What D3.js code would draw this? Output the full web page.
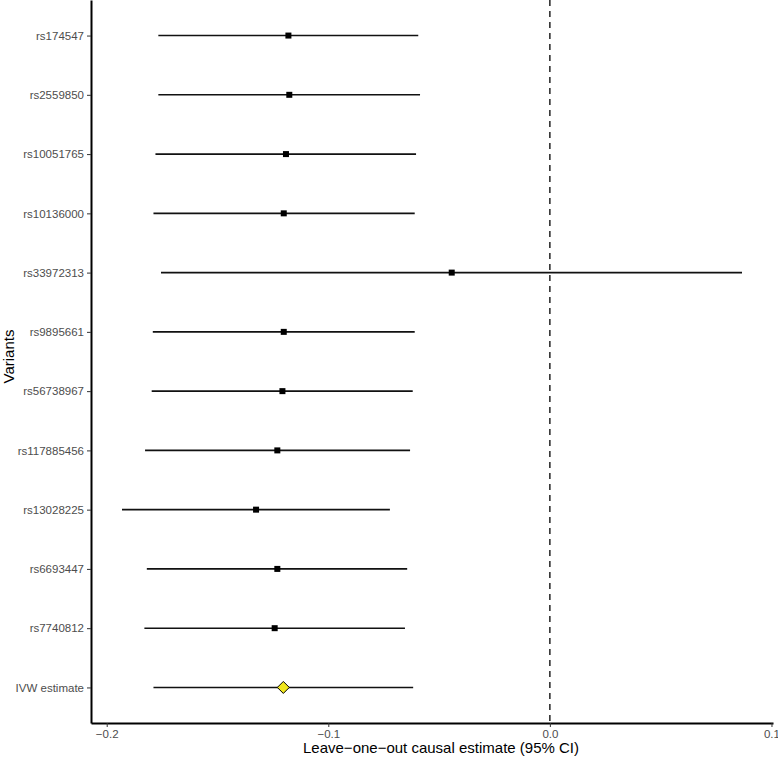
<!DOCTYPE html>
<html>
<head>
<meta charset="utf-8">
<script src="https://cdn.jsdelivr.net/npm/d3@7"></script>
<style>
  body { margin: 0; background: #fff; }
  svg { display: block; font-family: "Liberation Sans", Arial, Helvetica, sans-serif; }
</style>
</head>
<body>
<svg id="chart"></svg>
<script>
// Leave-one-out data, top row first
const variants = ["rs174547", "rs2559850", "rs10051765", "rs10136000", "rs33972313",
  "rs9895661", "rs56738967", "rs117885456", "rs13028225", "rs6693447", "rs7740812", "IVW estimate"];
const estimates = [-0.1180, -0.1176, -0.1191, -0.1201, -0.0443,
  -0.1201, -0.1207, -0.1230, -0.1326, -0.1230, -0.1242, -0.1203];
const lower = [-0.1767, -0.1767, -0.1780, -0.1789, -0.1755,
  -0.1792, -0.1797, -0.1827, -0.1931, -0.1819, -0.1830, -0.1789];
const upper = [-0.0594, -0.0586, -0.0604, -0.0610, 0.0867,
  -0.0610, -0.0619, -0.0631, -0.0722, -0.0644, -0.0654, -0.0617];
const xTicks = [-0.2, -0.1, 0.0, 0.1];

const width = 778, height = 757;
const margin = { top: 0, right: 5, bottom: 34, left: 91 };

const rows = variants.map((v, i) => ({ name: v, est: estimates[i], lo: lower[i], hi: upper[i] }));

const svg = d3.select("#chart").attr("width", width).attr("height", height);

// ggplot style 5% expansion
const lo = d3.min(lower), hi = d3.max(upper);
const pad = (hi - lo) * 0.05;
const x = d3.scaleLinear()
  .domain([lo - pad, hi + pad])
  .range([margin.left, width - margin.right]);

const y = d3.scalePoint()
  .domain(variants)
  .range([margin.top, height - margin.bottom])
  .padding(0.6);

const fmt = d => d3.format(".1f")(d).replace("-", "\u2212");

// zero line
svg.append("line")
  .attr("x1", x(0)).attr("x2", x(0))
  .attr("y1", margin.top).attr("y2", height - margin.bottom)
  .attr("stroke", "#000")
  .attr("stroke-width", 1.3)
  .attr("stroke-dasharray", "6,5");

// confidence intervals
svg.append("g")
  .selectAll("line")
  .data(rows)
  .join("line")
  .attr("x1", d => x(d.lo))
  .attr("x2", d => x(d.hi))
  .attr("y1", d => y(d.name))
  .attr("y2", d => y(d.name))
  .attr("stroke", "#111")
  .attr("stroke-width", 1.6);

// point estimates
const sq = 6;
svg.append("g")
  .selectAll("rect")
  .data(rows.filter(d => d.name !== "IVW estimate"))
  .join("rect")
  .attr("x", d => x(d.est) - sq / 2)
  .attr("y", d => y(d.name) - sq / 2)
  .attr("width", sq)
  .attr("height", sq)
  .attr("fill", "#000");

// IVW diamond
const dm = 6;
svg.append("g")
  .selectAll("path")
  .data(rows.filter(d => d.name === "IVW estimate"))
  .join("path")
  .attr("d", d => {
    const cx = x(d.est), cy = y(d.name);
    return `M${cx},${cy - dm}L${cx + dm},${cy}L${cx},${cy + dm}L${cx - dm},${cy}Z`;
  })
  .attr("fill", "#f0e61e")
  .attr("stroke", "#000")
  .attr("stroke-width", 1);

// x axis
const xAxis = svg.append("g")
  .attr("transform", `translate(0,${height - margin.bottom})`)
  .call(d3.axisBottom(x).tickValues(xTicks).tickFormat(fmt).tickSize(4).tickPadding(3).tickSizeOuter(0));
xAxis.select(".domain").attr("stroke", "#000").attr("stroke-width", 2);
xAxis.selectAll(".tick line").attr("stroke", "#333").attr("stroke-width", 1);
xAxis.selectAll(".tick text").attr("fill", "#4d4d4d").attr("font-size", "11.5px")
  .attr("font-family", "Liberation Sans, Arial, sans-serif");

// y axis
const yAxis = svg.append("g")
  .attr("transform", `translate(${margin.left},0)`)
  .call(d3.axisLeft(y).tickSize(4).tickPadding(3).tickSizeOuter(0));
yAxis.select(".domain").attr("stroke", "#000").attr("stroke-width", 2);
yAxis.selectAll(".tick line").attr("stroke", "#333").attr("stroke-width", 1);
yAxis.selectAll(".tick text").attr("fill", "#4d4d4d").attr("font-size", "11.5px")
  .attr("font-family", "Liberation Sans, Arial, sans-serif");

// axis titles
svg.append("text")
  .attr("x", (margin.left + width - margin.right) / 2 + 9)
  .attr("y", height - 4)
  .attr("text-anchor", "middle")
  .attr("font-size", "15px")
  .attr("fill", "#000")
  .text("Leave\u2212one\u2212out causal estimate (95% CI)");

svg.append("text")
  .attr("transform", `translate(14,${(margin.top + height - margin.bottom) / 2 - 5}) rotate(-90)`)
  .attr("text-anchor", "middle")
  .attr("font-size", "15px")
  .attr("fill", "#000")
  .text("Variants");
</script>
</body>
</html>
